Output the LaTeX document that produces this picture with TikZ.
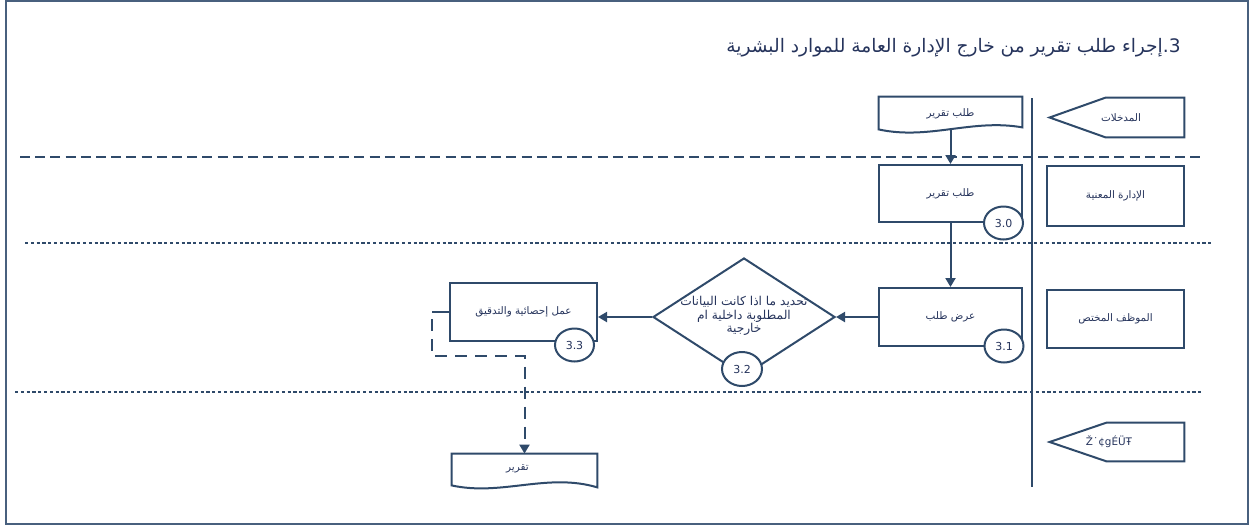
\documentclass[tikz,border=0pt]{standalone}
\usepackage{fontspec}
\setmainfont{DejaVu Sans}
\newfontfamily\arabicfont[Script=Arabic]{DejaVu Sans}
\TeXXeTstate=1
\usetikzlibrary{calc,shapes.geometric,arrows.meta}
\definecolor{ln}{RGB}{47,74,106}
\definecolor{tx}{RGB}{38,52,92}
\definecolor{fr}{RGB}{72,96,126}
\newcommand{\AR}[1]{{\arabicfont\beginR #1\endR}}
\begin{document}
\begin{tikzpicture}[x=0.5pt,y=-0.5pt,
  lbl/.style={text=tx, font=\fontsize{5.2}{6.5}\selectfont, inner sep=0pt},
  box/.style={lbl, draw=ln, line width=1pt, fill=white, rectangle},
  num/.style={ellipse, draw=ln, line width=1pt, fill=white, minimum width=19.5pt, minimum height=16.5pt, inner sep=0pt, text=tx, font=\fontsize{5.5}{6}\selectfont},
  outl/.style={draw=ln, line width=1pt, fill=white, line join=miter},
  arr/.style={draw=ln, line width=1pt, -{Triangle[length=4.5pt,width=5pt]}},
  lanea/.style={draw=ln, line width=1pt, dash pattern=on 5pt off 2.6pt},
  laneb/.style={draw=ln, line width=1pt, dash pattern=on 1.6pt off 1.3pt},
  dconn/.style={draw=ln, line width=1pt, dash pattern=on 6pt off 4pt}
]
\useasboundingbox (0,0) rectangle (1250,526);
\draw[fr, line width=1.2pt] (6,1) rectangle (1248,524);

% title
\node[anchor=east, text=tx, font=\fontsize{9.3}{11}\selectfont, inner sep=0pt] (title) at (1181,48)
  {{\arabicfont\beginR\beginL 3.\endL{}إجراء طلب تقرير من خارج الإدارة العامة للموارد البشرية\endR}};

% lane separators
\draw[lanea] (20,157) -- (1200,157);
\draw[laneb] (25,243) -- (1213,243);
\draw[laneb] (15,392) -- (1203,392);
\draw[ln, line width=1pt] (1032,98) -- (1032,487);

% right column labels
\node[lbl, minimum width=67pt, minimum height=19.5pt] (in1) at (1117,117.5) {};
\draw[outl] (in1.north east) -- (in1.south east) -- ($(in1.south west)+(56,0)$) -- (in1.west) -- ($(in1.north west)+(56,0)$) -- cycle;
\node[lbl] at ($(in1)+(4,0)$) {\AR{المدخلات}};

\node[box, minimum width=68.5pt, minimum height=30pt] (l2) at (1115.5,196) {\AR{الإدارة المعنية}};
\node[box, minimum width=68.5pt, minimum height=29pt] (l3) at (1115.5,319) {\AR{الموظف المختص}};

\node[lbl, minimum width=67pt, minimum height=19pt] (out1) at (1117,442) {};
\draw[outl] (out1.north east) -- (out1.south east) -- ($(out1.south west)+(57,0)$) -- (out1.west) -- ($(out1.north west)+(57,0)$) -- cycle;
\node[lbl] at ($(out1)+(-8,0)$) {Ž˙¢gÉÜŦ};

% document 1
\node[lbl, minimum width=71.5pt, minimum height=15.5pt] (doc1) at (950.5,112.5) {};
\draw[outl] ($(doc1.south west)+(0,1)$) -- (doc1.north west) -- (doc1.north east) -- ($(doc1.south east)+(0,-1)$)
  .. controls ($(doc1.south east)+(-50,-10)$) and ($(doc1.south west)+(50,12)$) .. ($(doc1.south west)+(0,1)$) -- cycle;
\node[lbl] at ($(doc1)+(0,1)$) {\AR{طلب تقرير}};

% boxes
\node[box, minimum width=71.5pt, minimum height=28.5pt] (b30) at (950.5,193.5) {\AR{طلب تقرير}};
\node[box, minimum width=71.5pt, minimum height=29pt] (b31) at (950.5,317) {\AR{عرض طلب}};
\node[box, minimum width=73.5pt, minimum height=29pt] (b33) at (523.5,312) {\AR{عمل إحصائية والتدقيق}};

% diamond
\node[diamond, draw=ln, line width=1pt, fill=white, minimum width=91pt, minimum height=59pt, inner sep=0pt] (d32) at (744,317) {};
\node[text=tx, font=\fontsize{6.1}{6.8}\selectfont, align=center, inner sep=0pt] (d32t) at (744,316)
  {\AR{تحديد ما اذا كانت البيانات}\\\AR{المطلوبة داخلية ام}\\\AR{خارجية}};

% document 2
\node[lbl, minimum width=72.5pt, minimum height=16pt] (doc2) at (524.5,470) {};
\draw[outl] ($(doc2.south west)+(0,-1)$) -- (doc2.north west) -- (doc2.north east) -- ($(doc2.south east)+(0,1)$)
  .. controls ($(doc2.south east)+(-50,-14)$) and ($(doc2.south west)+(50,10)$) .. ($(doc2.south west)+(0,-1)$) -- cycle;
\node[lbl] at ($(doc2)+(-7,-1)$) {\AR{تقرير}};

% connectors
\draw[arr] (doc1.south) -- (b30.north);
\draw[arr] (b30.south) -- (b31.north);
\draw[arr] (b31.west) -- (d32.east);
\draw[arr] (d32.west) -- (d32.west -| b33.east);
\draw[ln, line width=1pt] (b33.west) -- ++(-17,0) coordinate (s1);
\draw[dconn, -{Triangle[length=4.5pt,width=5pt]}] ($(s1)+(0,7)$) -- ($(s1)+(0,44)$) -| (doc2.north);

% number circles
\node[num] (c30) at (1003.5,223) {3.0};
\node[num] (c31) at (1004,346) {3.1};
\node[num, minimum width=20pt, minimum height=17pt] (c32) at (742,369) {3.2};
\node[num] (c33) at (574.5,345) {3.3};
\end{tikzpicture}
\end{document}
